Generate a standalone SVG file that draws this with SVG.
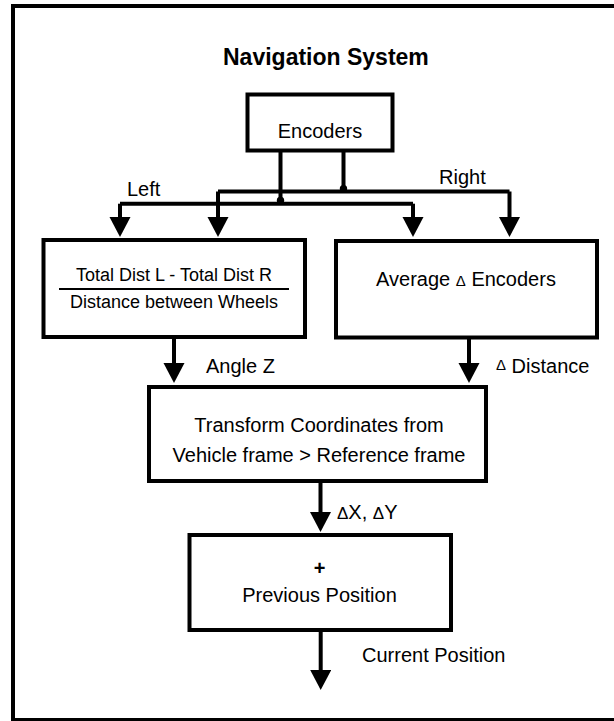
<svg xmlns="http://www.w3.org/2000/svg" width="614" height="721" viewBox="0 0 614 721">
<defs>
<marker id="arr" markerUnits="userSpaceOnUse" markerWidth="22" markerHeight="22" refX="1" refY="10.5" orient="auto" viewBox="0 0 22 22">
<path d="M0,0 L20,10.5 L0,21 z" fill="#000"/>
</marker>
<style>
.box{fill:#fff;stroke:#000;stroke-width:4}
.ln{fill:none;stroke:#000;stroke-width:4}
.t{font-family:"Liberation Sans",Arial,sans-serif;font-size:20px;fill:#000}
.f{font-family:"Liberation Sans",Arial,sans-serif;font-size:18px;fill:#000}
.b{font-weight:bold}
.d{font-size:15px}
</style>
</defs>
<rect x="0" y="0" width="614" height="721" fill="#fff"/>
<rect x="13" y="6" width="612" height="714" fill="none" stroke="#000" stroke-width="4"/>
<text class="t b" x="223" y="65" style="font-size:23px">Navigation System</text>

<g id="connectors">
<path class="ln" d="M280.5,152 V203.7 M343.5,152 V191.5"/>
<path class="ln" d="M218,191.5 H509.5"/>
<path class="ln" d="M120,203.7 H413"/>
<path class="ln" d="M218,191.5 V218" marker-end="url(#arr)"/>
<path class="ln" d="M509.5,191.5 V218" marker-end="url(#arr)"/>
<path class="ln" d="M120,203.7 V218" marker-end="url(#arr)"/>
<path class="ln" d="M413,203.7 V218" marker-end="url(#arr)"/>
<circle cx="280.5" cy="200.5" r="3.7" fill="#000"/>
<circle cx="343.5" cy="188.8" r="3.7" fill="#000"/>
<path class="ln" d="M174,339 V364" marker-end="url(#arr)"/>
<path class="ln" d="M469,339 V364" marker-end="url(#arr)"/>
<path class="ln" d="M320.5,482 V513" marker-end="url(#arr)"/>
<path class="ln" d="M320.7,632 V671" marker-end="url(#arr)"/>
<text class="t" x="127" y="196">Left</text>
<text class="t" x="439" y="184">Right</text>
<text class="t" x="206" y="373">Angle Z</text>
<text class="t" x="496" y="373"><tspan class="d" dy="-3">Δ</tspan><tspan dy="3"> Distance</tspan></text>
<text class="t" x="337" y="519"><tspan style="font-size:17px">Δ</tspan>X, <tspan style="font-size:17px">Δ</tspan>Y</text>
<text class="t" x="362" y="662">Current Position</text>
</g>

<g id="encoders">
<rect class="box" x="247.5" y="94.5" width="145" height="56"/>
<text class="t" x="320" y="138" text-anchor="middle">Encoders</text>
</g>

<g id="angle">
<rect class="box" x="43.5" y="240" width="261.5" height="97"/>
<text class="f" x="174" y="281" text-anchor="middle">Total Dist L - Total Dist R</text>
<line x1="59" y1="289" x2="289" y2="289" stroke="#000" stroke-width="2"/>
<text class="f" x="174" y="308" text-anchor="middle">Distance between Wheels</text>
</g>

<g id="average">
<rect class="box" x="336" y="241" width="261" height="96.5"/>
<text class="t" x="466" y="286" text-anchor="middle">Average <tspan class="d">Δ</tspan> Encoders</text>
</g>

<g id="transform">
<rect class="box" x="149" y="387" width="337" height="94"/>
<text class="t" x="319" y="432" text-anchor="middle">Transform Coordinates from</text>
<text class="t" x="319" y="462" text-anchor="middle">Vehicle frame &gt; Reference frame</text>
</g>

<g id="previous">
<rect class="box" x="189.5" y="535" width="261.5" height="95"/>
<text class="t b" x="319.5" y="575" text-anchor="middle">+</text>
<text class="t" x="319.5" y="602" text-anchor="middle">Previous Position</text>
</g>
</svg>
